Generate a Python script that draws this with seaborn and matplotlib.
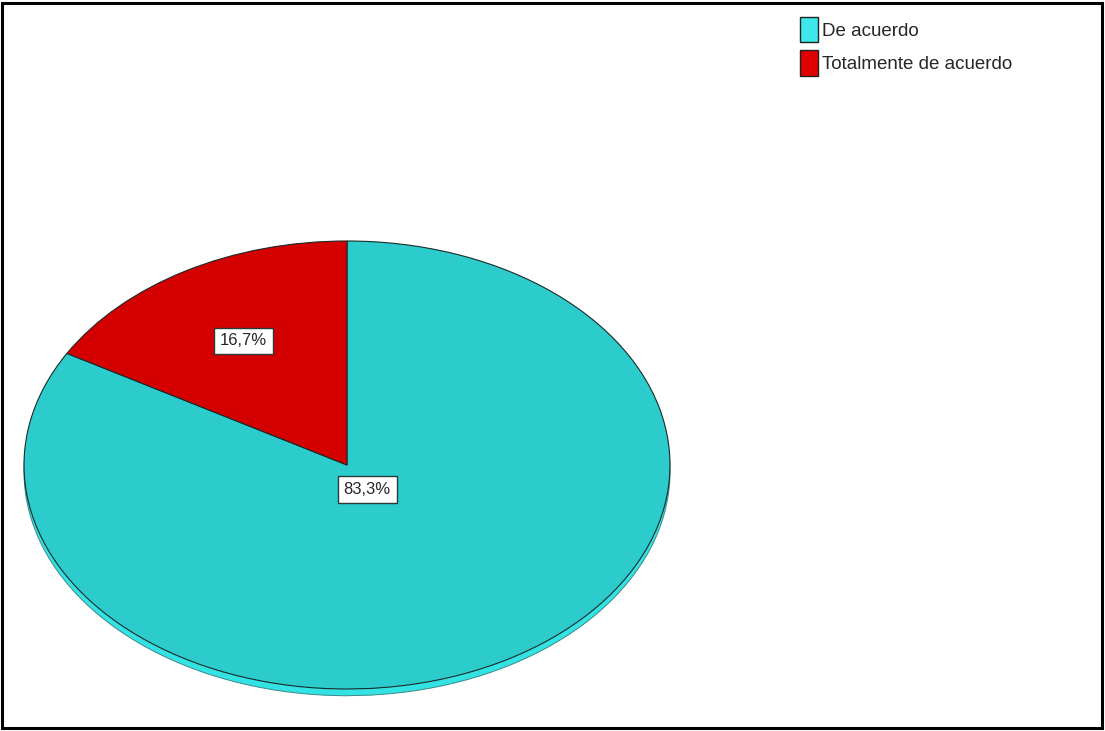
import numpy as np
import matplotlib
matplotlib.use("Agg")
import matplotlib.pyplot as plt
import matplotlib.patches as mpatches
import seaborn as sns

sns.set_style("white")
plt.rcParams['font.family'] = ['Liberation Sans Narrow', 'Liberation Sans', 'DejaVu Sans']

# Data
categories = ["De acuerdo", "Totalmente de acuerdo"]
values = [83.3, 16.7]
pct_labels = ["83,3%", "16,7%"]

# Colours
pie_colors = ["#2ccccc", "#d40000"]
legend_colors = ["#3ee8ea", "#e00000"]
side_color = "#33e2e2"

fig = plt.figure(figsize=(11.05, 7.31), dpi=100)
W, H = 1105, 731

# Outer frame
fig.add_artist(mpatches.Rectangle((2 / W, 3 / H), 1100 / W, 725 / H, transform=fig.transFigure,
                                  fill=False, ec="black", lw=2.2))

# Pie axes, squashed so the pie looks tilted
ax = fig.add_axes([24 / W, 42 / H, 646 / W, 448 / H])
ax.axis("off")

# 3D side of the pie (shifted copy behind)
side, _ = ax.pie(values, colors=[side_color, side_color], startangle=90, counterclock=False,
                 radius=1, center=(0, -0.03),
                 wedgeprops=dict(edgecolor="#3a8a8a", linewidth=0.7))
for w in side:
    w.set_zorder(1)
    w.set_clip_on(False)

wedges, _ = ax.pie(values, colors=pie_colors, startangle=90, counterclock=False,
                   radius=1, wedgeprops=dict(edgecolor="#1a2a2a", linewidth=0.8))
for w in wedges:
    w.set_zorder(2)
    w.set_clip_on(False)

ax.set_xlim(-1, 1)
ax.set_ylim(-1, 1)
ax.set_aspect("auto")

# Percentage labels
label_dist = [0.125, 0.64]
for w, txt, d in zip(wedges, pct_labels, label_dist):
    ang = np.deg2rad((w.theta1 + w.theta2) / 2)
    ax.text(d * np.cos(ang), d * np.sin(ang), txt, ha="center", va="center", fontsize=12,
            zorder=5, bbox=dict(boxstyle="square,pad=0.35", fc="white", ec="#2a3a3a", lw=1))

# Legend
handles = [mpatches.Patch(facecolor=c, edgecolor="#222222", linewidth=1) for c in legend_colors]
fig.legend(handles, categories, loc="upper left", bbox_to_anchor=(800 / W, 1 - 17 / H),
           frameon=False, fontsize=13.5, handlelength=0.95, handleheight=1.7,
           handletextpad=0.25, labelspacing=0.42, borderpad=0, borderaxespad=0)

fig.savefig("out.png", dpi=100)
